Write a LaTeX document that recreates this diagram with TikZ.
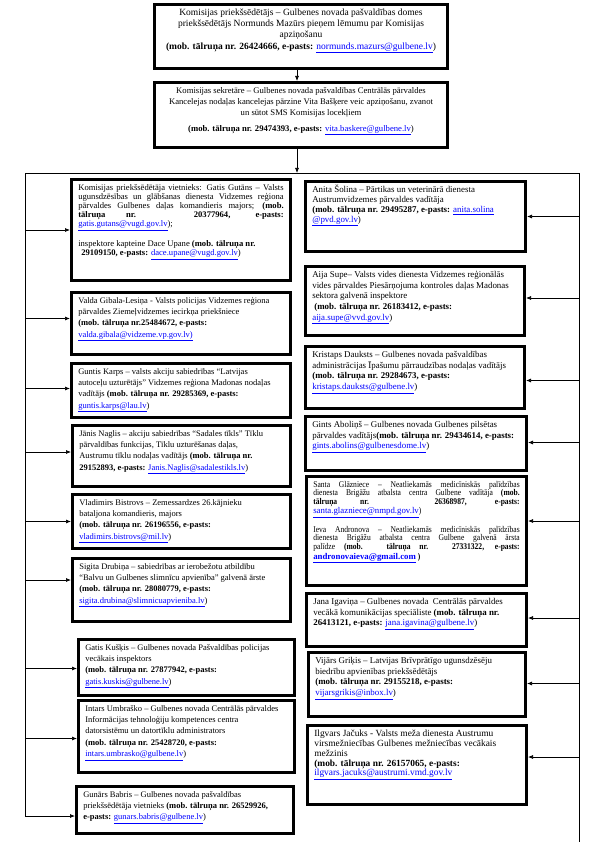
\documentclass[tikz,border=0pt]{standalone}
\usepackage{fontspec}
\setmainfont{Liberation Serif}
\newfontfamily\squeezed[FakeStretch=0.86]{Liberation Serif}
\usetikzlibrary{arrows.meta}
\newcommand{\mail}[1]{\textcolor{blue}{\underline{#1}}}

\begin{document}
\begin{tikzpicture}[x=1pt,y=-1pt,
  frame/.style={draw,line width=2.6pt,anchor=north west,inner xsep=7pt,inner ysep=4pt,text height=7pt,align=flush left},
  card/.code 2 args={\pgfmathsetmacro\cardw{#1-16.6}\pgfmathsetmacro\cardd{#2-17.6}%
    \tikzset{text width=\cardw pt,text depth=\cardd pt}},
  headfont/.style={font=\fontsize{9.5}{11.3}\selectfont},
  lfont/.style={font=\fontsize{8.5}{11.3}\selectfont},
  rfont/.style={font=\fontsize{8.9}{10.7}\selectfont},
  tight/.style={font=\fontsize{8.6}{9.1}\selectfont,align=justify},
  arr/.style={-{Latex[length=5pt,width=4pt]},line width=0.7pt}]
\useasboundingbox (0,0) rectangle (615,845);

\node[frame,card={296}{67},align=flush center,headfont] (chair) at (153,3)
{Komisijas priekšsēdētājs – Gulbenes novada pašvaldības domes\\
priekšsēdētājs Normunds Mazūrs pieņem lēmumu par Komisijas\\
apziņošanu\\
\textbf{(mob. tālruņa nr. 26424666, e-pasts:} \mail{normunds.mazurs@gulbene.lv})};

\node[frame,card={296}{68},align=flush center,font=\fontsize{8.65}{11}\selectfont] (secr) at (153,81)
{Komisijas sekretāre – Gulbenes novada pašvaldības Centrālās pārvaldes\\
Kancelejas nodaļas kancelejas pārzine Vita Bašķere veic apziņošanu, zvanot\\
un sūtot SMS Komisijas locekļiem\\[5pt]
\textbf{(mob. tālruņa nr. 29474393, e-pasts:} \mail{vita.baskere@gulbene.lv})};

% kreisa kolonna
\node[frame,card={222}{104},tight] (gutans) at (70,178)
{Komisijas priekšsēdētāja vietnieks: Gatis Gutāns – Valsts\linebreak
ugunsdzēsības un glābšanas dienesta Vidzemes reģiona\linebreak
pārvaldes Gulbenes daļas komandieris majors; \textbf{(mob.}\linebreak
\textbf{tālruņa nr. 20377964, e-pasts:}\linebreak
\mail{gatis.gutans@vugd.gov.lv});\par\vspace{9pt}
inspektore kapteine Dace Upane \textbf{(mob. tālruņa nr.}\newline
\hspace*{3pt}\textbf{29109150, e-pasts:} \mail{dace.upane@vugd.gov.lv})};

\node[frame,card={222}{65},lfont] (valda) at (70,291)
{Valda Gibala-Lesiņa - Valsts policijas Vidzemes reģiona\\
pārvaldes Ziemeļvidzemes iecirkņa priekšniece\\
\textbf{(mob. tālruņa nr.25484672, e-pasts:}\\
\mail{valda.gibala@vidzeme.vp.gov.lv)}};

\node[frame,card={222}{57},lfont] (karps) at (70,362)
{Guntis Karps – valsts akciju sabiedrības “Latvijas\\
autoceļu uzturētājs” Vidzemes reģiona Madonas nodaļas\\
vadītājs \textbf{(mob. tālruņa nr. 29285369, e-pasts:}\\
\mail{guntis.karps@lau.lv})};

\node[frame,card={221}{64},lfont] (naglis) at (71,424)
{Jānis Naglis – akciju sabiedrības “Sadales tīkls” Tīklu\\
pārvaldības funkcijas, Tīklu uzturēšanas daļas,\\
Austrumu tīklu nodaļas vadītājs \textbf{(mob. tālruņa nr.}\\
\textbf{29152893, e-pasts:} \mail{Janis.Naglis@sadalestikls.lv})};

\node[frame,card={221}{57},lfont] (bistrovs) at (71,493)
{Vladimirs Bistrovs – Zemessardzes 26.kājnieku\\
bataljona komandieris, majors\\
\textbf{(mob. tālruņa nr. 26196556, e-pasts:}\\
\mail{vladimirs.bistrovs@mil.lv})};

\node[frame,card={221}{66},lfont] (drubina) at (71,557)
{Sigita Drubiņa – sabiedrības ar ierobežotu atbildību\\
“Balvu un Gulbenes slimnīcu apvienība” galvenā ārste\\
\textbf{(mob. tālruņa nr. 28080779, e-pasts:}\\
\mail{sigita.drubina@slimnicuapvieniba.lv})};

\node[frame,card={219}{59},lfont] (kuskis) at (77,638)
{Gatis Kušķis – Gulbenes novada Pašvaldības policijas\\
vecākais inspektors\\
\textbf{(mob. tālruņa nr. 27877942, e-pasts:}\\
\mail{gatis.kuskis@gulbene.lv})};

\node[frame,card={219}{75},lfont] (umbrasko) at (77,699)
{Intars Umbraško – Gulbenes novada Centrālās pārvaldes\\
Informācijas tehnoloģiju kompetences centra\\
datorsistēmu un datortīklu administrators\\
\textbf{(mob. tālruņa nr. 25428720, e-pasts:}\\
\mail{intars.umbrasko@gulbene.lv})};

\node[frame,card={220}{50},lfont] (babris) at (75,785)
{Gunārs Babris – Gulbenes novada pašvaldības\\
priekšsēdētāja vietnieks \textbf{(mob. tālruņa nr. 26529926,}\\
\textbf{e-pasts:} \mail{gunars.babris@gulbene.lv})};

% laba kolonna
\node[frame,card={223}{73},font=\fontsize{8.9}{10}\selectfont] (solina) at (304,180)
{Anita Šolina – Pārtikas un veterinārā dienesta\\
Austrumvidzemes pārvaldes vadītāja\\
\textbf{(mob. tālruņa nr. 29495287, e-pasts:} \mail{anita.solina}\\
\mail{@pvd.gov.lv})};

\node[frame,card={222}{72},rfont] (supe) at (304,265)
{Aija Supe– Valsts vides dienesta Vidzemes reģionālās\\
vides pārvaldes Piesārņojuma kontroles daļas Madonas\\
sektora galvenā inspektore\\
\hspace*{2pt}\textbf{(mob. tālruņa nr. 26183412, e-pasts:}\\
\mail{aija.supe@vvd.gov.lv})};

\node[frame,card={222}{65},rfont] (dauksts) at (304,345)
{Kristaps Dauksts – Gulbenes novada pašvaldības\\
administrācijas Īpašumu pārraudzības nodaļas vadītājs\\
\textbf{(mob. tālruņa nr. 29284673, e-pasts:}\\
\mail{kristaps.dauksts@gulbene.lv})};

\node[frame,card={224}{57},rfont] (abolins) at (304,415)
{Gints Aboliņš – Gulbenes novada Gulbenes pilsētas\\
pārvaldes vadītājs\textbf{(mob. tālruņa nr. 29434614, e-pasts:}\\
\mail{gints.abolins@gulbenesdome.lv})};

\node[frame,card={223}{112},tight,font=\squeezed\fontsize{8.8}{8}\selectfont] (glazniece) at (305,475)
{Santa Glāzniece – Neatliekamās medicīniskās palīdzības\linebreak
dienesta Brigāžu atbalsta centra Gulbene vadītāja \textbf{(mob.}\linebreak
\textbf{tālruņa nr. 26368987, e-pasts:}\linebreak
\mail{\rmfamily santa.glazniece@nmpd.gov.lv})\par\vspace{8pt}
Ieva Andronova – Neatliekamās medicīniskās palīdzības\linebreak
dienesta Brigāžu atbalsta centra Gulbene galvenā ārsta\linebreak
palīdze \textbf{(mob. tālruņa nr. 27331322, e-pasts:}\linebreak
\textbf{\mail{\rmfamily andronovaieva@gmail.com} )}};

\node[frame,card={223}{56},rfont] (igavina) at (305,592)
{Jana Igaviņa – Gulbenes novada\ \ Centrālās pārvaldes\\
vecākā komunikācijas speciāliste \textbf{(mob. tālruņa nr.}\\
\textbf{26413121, e-pasts:} \mail{jana.igavina@gulbene.lv})};

\node[frame,card={220}{67},rfont] (grikis) at (307,651)
{Vijārs Griķis – Latvijas Brīvprātīgo ugunsdzēsēju\\
biedrību apvienības priekšsēdētājs\\
\textbf{(mob. tālruņa nr. 29155218, e-pasts:}\\
\mail{vijarsgrikis@inbox.lv})};

\node[frame,card={222}{82},font=\fontsize{9.4}{9.9}\selectfont] (jacuks) at (306,724)
{Ilgvars Jačuks - Valsts meža dienesta Austrumu\\
virsmežniecības Gulbenes mežniecības vecākais\\
mežzinis\\
\textbf{(mob. tālruņa nr. 26157065, e-pasts:}\\
\mail{ilgvars.jacuks@austrumi.vmd.gov.lv}};

\coordinate (spine) at (297,0);
\coordinate (lbus) at (25,173);
\coordinate (rbus) at (579,173);
\coordinate (lend) at (25,816);
\coordinate (rend) at (579,842);

\draw[arr] (chair.south -| spine) -- (secr.north -| spine);
\draw[arr] (secr.south -| spine) -- (lbus -| spine);
\draw[line width=0.7pt] (lend) -- (lbus) -- (rbus) -- (rend);

\foreach \n/\d in {gutans/0,valda/5,karps/2,naglis/4,bistrovs/0,drubina/10,kuskis/-1,umbrasko/-2,babris/-6} {
  \path ([yshift=\d pt]\n.west) coordinate (tip);
  \draw[arr] (tip -| lbus) -- (tip);
}
\foreach \n/\d in {solina/0,supe/3,dauksts/-3,abolins/1,glazniece/10,igavina/2,grikis/1,jacuks/8} {
  \path ([yshift=\d pt]\n.east) coordinate (tip);
  \draw[arr] (tip -| rbus) -- (tip);
}
\end{tikzpicture}
\end{document}
